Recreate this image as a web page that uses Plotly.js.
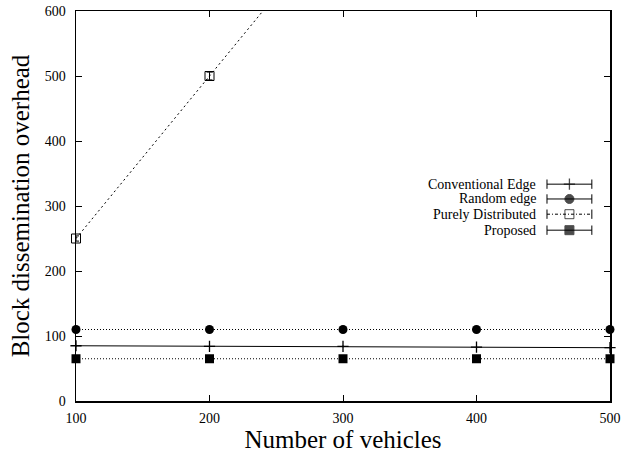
<!DOCTYPE html>
<html>
<head>
<meta charset="utf-8">
<script src="https://cdn.plot.ly/plotly-3.0.1.min.js"></script>
<style>
  html, body { margin: 0; padding: 0; background: #fff; }
  #chart { width: 639px; height: 453px; }
</style>
</head>
<body>
<div id="chart"></div>
<script>
// Number of vehicles on the x axis
const vehicles = [100, 200, 300, 400, 500];

// Block dissemination overhead per scheme
const conventionalEdge = [85, 84, 84, 83, 82];
const conventionalErr = [1.5, 1.5, 1.5, 1.5, 1.5];
const randomEdge = [110, 110, 110, 110, 110];
const purelyDistributed = [250, 500, 750, 1000, 1250];
const purelyErr = [4, 6, 0, 0, 0];
const proposed = [65, 65, 65, 65, 65];

const seriesNames = ['Conventional Edge', 'Random edge', 'Purely Distributed', 'Proposed'];
const yTicks = [0, 100, 200, 300, 400, 500, 600];
const xTicks = [100, 200, 300, 400, 500];

const serif = 'Liberation Serif';

const traces = [
  {
    x: vehicles, y: conventionalEdge, mode: 'lines+markers', name: seriesNames[0],
    line: { color: '#000', width: 1 },
    marker: { symbol: 'cross-thin', size: 8, line: { color: '#000', width: 1.3 } },
    error_y: { type: 'data', array: conventionalErr, visible: true, color: '#000', thickness: 1, width: 0 },
    cliponaxis: false
  },
  {
    x: vehicles, y: randomEdge, mode: 'lines+markers', name: seriesNames[1],
    line: { color: '#000', width: 1, dash: '1px,2px' },
    marker: { symbol: 'circle', size: 9, color: '#000' },
    cliponaxis: false
  },
  {
    x: vehicles, y: purelyDistributed, mode: 'lines+markers', name: seriesNames[2],
    line: { color: '#000', width: 1, dash: '2px,3px' },
    marker: { symbol: 'square-open', size: 9, color: '#000', line: { width: 1 } },
    error_y: { type: 'data', array: purelyErr, visible: true, color: '#000', thickness: 1, width: 3 },
    cliponaxis: false
  },
  {
    x: vehicles, y: proposed, mode: 'lines+markers', name: seriesNames[3],
    line: { color: '#000', width: 1, dash: '1px,2px' },
    marker: { symbol: 'square', size: 9, color: '#000' },
    cliponaxis: false
  }
];

// Key samples: line with end caps and the series marker in the middle
const keyY = [0.556, 0.518, 0.479, 0.438];
const keyX = [0.882, 0.924, 0.966];
const keyStyles = [
  { dash: 'solid', symbol: 'cross-thin', size: 8 },
  { dash: 'solid', symbol: 'circle', size: 9 },
  { dash: '3px,2px,1px,2px', symbol: 'square-open', size: 9 },
  { dash: 'solid', symbol: 'square', size: 9 }
];
keyStyles.forEach((s, i) => {
  traces.push({
    x: keyX, y: [keyY[i], keyY[i], keyY[i]], xaxis: 'x2', yaxis: 'y2',
    mode: 'lines+markers', showlegend: false, hoverinfo: 'skip',
    line: { color: '#000', width: 1, dash: s.dash },
    marker: { symbol: s.symbol, size: [0, s.size, 0], color: '#000', line: { color: '#000', width: s.symbol === 'cross-thin' ? 1.3 : 1 } },
    error_y: { type: 'data', array: [0.012, 0, 0.012], visible: true, color: '#000', thickness: 1, width: 0 },
    cliponaxis: false
  });
});

const annotations = seriesNames.map((n, i) => ({
  xref: 'paper', yref: 'paper', x: 0.865, y: keyY[i], xanchor: 'right', yanchor: 'middle',
  text: n, showarrow: false, font: { family: serif, size: 14, color: '#000' }
}));

const layout = {
  width: 639, height: 453,
  margin: { l: 76, r: 29, t: 11, b: 52 },
  paper_bgcolor: '#fff', plot_bgcolor: '#fff',
  showlegend: false,
  font: { family: serif, color: '#000' },
  xaxis: {
    range: [100, 500], tickvals: xTicks, ticks: 'inside', ticklen: 6, tickwidth: 1, tickcolor: '#000',
    showline: true, linecolor: '#000', linewidth: 1.5, mirror: 'ticks', showgrid: false, zeroline: false,
    tickfont: { family: serif, size: 14 }, ticklabelstandoff: 4,
    title: { text: 'Number of vehicles', font: { family: serif, size: 25 }, standoff: 2 }
  },
  yaxis: {
    range: [0, 600], tickvals: yTicks, ticks: 'inside', ticklen: 6, tickwidth: 1, tickcolor: '#000',
    showline: true, linecolor: '#000', linewidth: 1.5, mirror: 'ticks', showgrid: false, zeroline: false,
    tickfont: { family: serif, size: 14 }, ticklabelstandoff: 6,
    title: { text: 'Block dissemination overhead', font: { family: serif, size: 25 }, standoff: 8 }
  },
  xaxis2: { overlaying: 'x', range: [0, 1], visible: false, anchor: 'y2' },
  yaxis2: { overlaying: 'y', range: [0, 1], visible: false, anchor: 'x2' },
  annotations: annotations
};

Plotly.newPlot('chart', traces, layout, { displayModeBar: false, staticPlot: true });
</script>
</body>
</html>
